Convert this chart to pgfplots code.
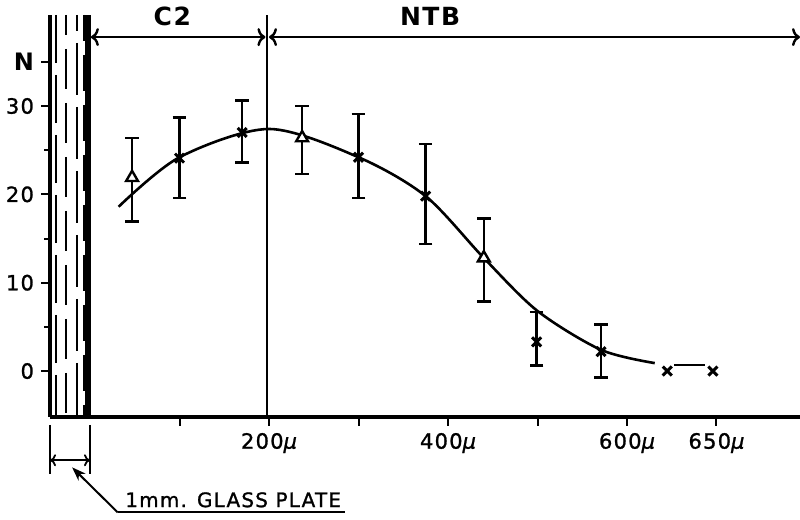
\documentclass[border=0pt]{standalone}
\usepackage{pgfplots}
\pgfplotsset{compat=1.18}
\usepackage{pgfplotstable}
\usepackage{fontspec}
\setmainfont{DejaVu Sans}
\newfontfamily\spaced[LetterSpace=6, FakeBold=1.2]{DejaVu Sans}
\newfontfamily\spacedbold[LetterSpace=6]{DejaVu Sans Bold}
\usetikzlibrary{arrows.meta}

\pgfplotstableread{
x y ep em
47 21.9 4.5 5.0
237 26.4 3.6 4.1
440 12.8 4.5 4.9
}\triangles
\pgfplotstableread{
x y ep em
100 24.1 4.6 4.5
170 27.0 3.6 3.4
300 24.2 4.9 4.6
375 19.8 5.9 5.4
499 3.3 3.4 2.7
571 2.2 3.1 2.9
}\crosses
\pgfplotstableread{
x y
645 0.0
696 0.0
}\endcrosses

\begin{document}
\begin{tikzpicture}
\begin{axis}[
  scale only axis, width=375pt, height=201pt,
  xmin=-44.7, xmax=793.3, ymin=-5.2, ymax=40.3,
  axis x line=bottom, axis y line=left,
  axis line style={-, line width=2.4pt},
  tick align=outside, major tick length=4.5pt, minor tick length=3pt,
  tick style={line width=1pt, black},
  xtick={100,200,300,400,500,600,700},
  xticklabels={,200{\itshape μ},,400{\itshape μ},,600{\itshape μ},650{\itshape μ}},
  ytick={0,10,20,30,35},
  yticklabels={0,10,20,30,{\spacedbold\fontsize{12}{14}\selectfont N}},
  minor ytick={5,15,25},
  /pgf/number format/assume math mode=true,
  ticklabel style={font=\spaced\fontsize{10.5}{12}\selectfont},
  clip=false,
]
% glass plate
\draw[line width=2.8pt] (axis cs:-2,-5.2) -- (axis cs:-2,40.3);
\draw[line width=1pt, dash pattern=on 24pt off 6pt] (axis cs:-38,40.3) -- (axis cs:-38,-5.2);
\draw[line width=1pt, dash pattern=on 20pt off 7pt, dash phase=10pt] (axis cs:-26.8,40.3) -- (axis cs:-26.8,-5.2);
\draw[line width=1pt, dash pattern=on 26pt off 6pt, dash phase=18pt] (axis cs:-14.5,40.3) -- (axis cs:-14.5,-5.2);
\draw[line width=1pt, dash pattern=on 18pt off 7pt, dash phase=5pt] (axis cs:-6.7,40.3) -- (axis cs:-6.7,-5.2);
% boundary line and region arrows
\draw[line width=1.2pt] (axis cs:198,-5.2) -- (axis cs:198,40.3);
\draw[line width=1.2pt, {To[length=4pt,width=9pt]}-{To[length=4pt,width=9pt]}] (axis cs:1,37.8) -- (axis cs:196,37.8);
\draw[line width=1.2pt, {To[length=4pt,width=9pt]}-{To[length=4pt,width=9pt]}] (axis cs:200,37.8) -- (axis cs:793.3,37.8);
\node[font=\spacedbold\fontsize{12.5}{14}\selectfont] at (axis cs:92,40.1) {C2};
\node[font=\spacedbold\fontsize{12.5}{14}\selectfont] at (axis cs:380,40.1) {NTB};
% glass plate dimension
\draw[line width=1pt] (axis cs:-44.7,-6.1) -- (axis cs:-44.7,-11.6);
\draw[line width=1pt] (axis cs:0,-6.1) -- (axis cs:0,-11.6);
\draw[line width=0.9pt, {To[length=3pt,width=6pt]}-{To[length=3pt,width=6pt]}] (axis cs:-44.7,-10.1) -- (axis cs:0,-10.1);
\draw[line width=1pt, -{Stealth[length=7pt,width=5pt]}] (axis cs:31,-16.0) -- (axis cs:-20,-10.9);
\draw[line width=1pt] (axis cs:31,-16.0) -- (axis cs:285,-16.0);
\node[anchor=base west, inner sep=0pt, font=\spaced\fontsize{10}{12}\selectfont] at (axis cs:39,-15.4) {1mm. GLASS PLATE};
% fitted curve
\addplot[smooth, tension=0.5, line width=1.3pt] coordinates {
 (32,18.6) (100,24.2) (200,27.4) (300,24.2) (375,19.8) (440,12.8)
 (500,6.8) (571,2.4) (631,0.9)};
\addplot[line width=1.3pt] coordinates {(653,0.7) (687,0.7)};
% data
\addplot[only marks, mark=triangle*, mark size=3.4pt,
  mark options={fill=white, draw=black, line width=1.2pt},
  error bars/.cd, y dir=both, y explicit,
  error bar style={line width=1.3pt},
  error mark options={rotate=90, mark size=3.4pt, line width=1.3pt}]
  table[x=x, y=y, y error plus=ep, y error minus=em] {\triangles};
\addplot[only marks, mark=x, mark size=3.2pt, mark options={line width=1.5pt},
  error bars/.cd, y dir=both, y explicit,
  error bar style={line width=1.3pt},
  error mark options={rotate=90, mark size=3.4pt, line width=1.3pt}]
  table[x=x, y=y, y error plus=ep, y error minus=em] {\crosses};
\addplot[only marks, mark=x, mark size=3.2pt, mark options={line width=1.5pt}] table[x=x, y=y] {\endcrosses};
\end{axis}
\pgfresetboundingbox
\path[use as bounding box] ([shift={(-25pt,-51.5pt)}]current axis.south west) rectangle ([shift={(375pt,208.5pt)}]current axis.south west);
\end{tikzpicture}
\end{document}
